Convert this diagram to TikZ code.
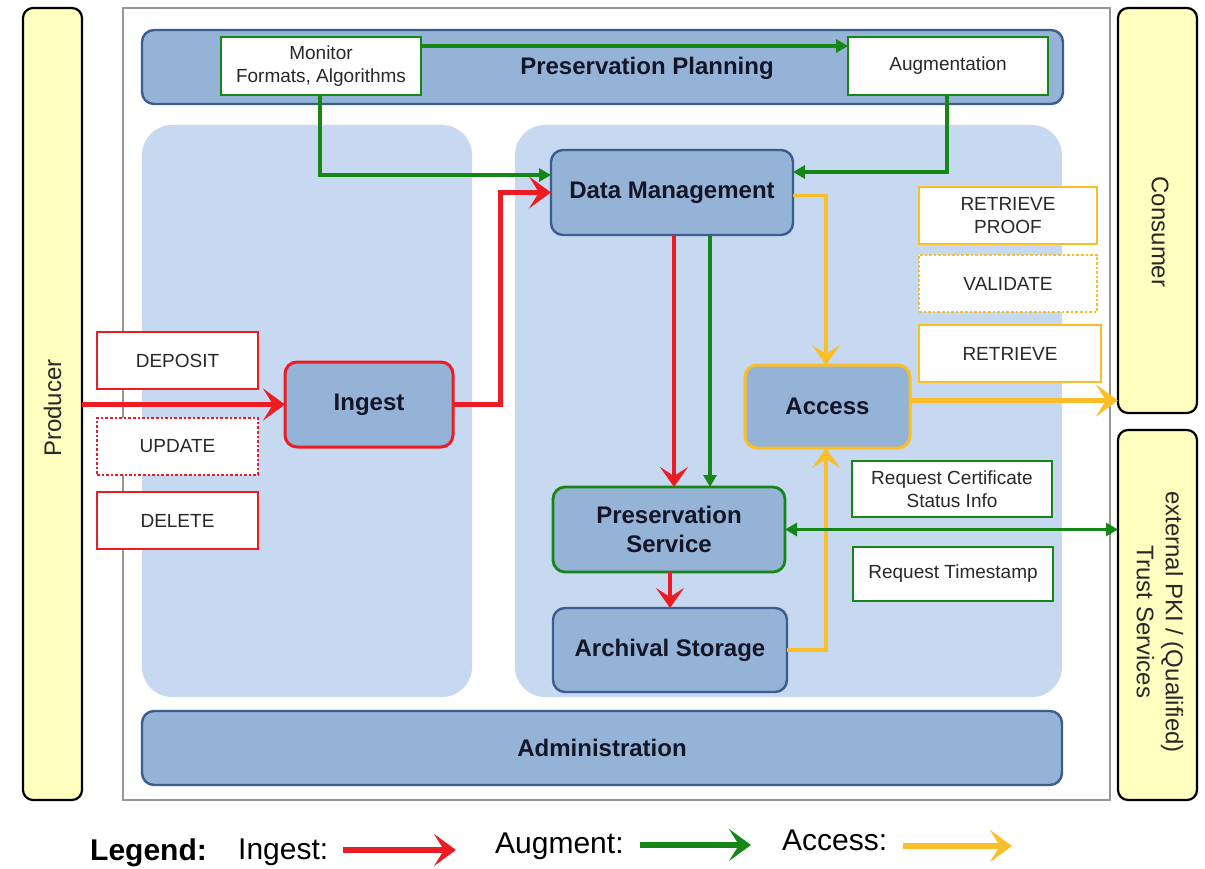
\documentclass[tikz,border=0pt]{standalone}
\usepackage{fontspec}
\setmainfont{Liberation Sans}
\usetikzlibrary{arrows.meta,calc}
\definecolor{ylw}{RGB}{255,255,191}
\definecolor{modfill}{RGB}{149,179,215}
\definecolor{modline}{RGB}{59,94,140}
\definecolor{panel}{RGB}{198,217,241}
\definecolor{ored}{RGB}{235,28,36}
\definecolor{ogreen}{RGB}{22,135,22}
\definecolor{oyel}{RGB}{250,190,40}
\definecolor{txtdark}{RGB}{20,22,40}
\definecolor{txtgray}{RGB}{40,40,40}
\begin{document}
\begin{tikzpicture}[x=1pt,y=-1pt,
  sidebox/.style={draw=black,line width=2.2pt,fill=ylw,rounded corners=10pt,inner sep=0pt,outer sep=0pt},
  sidetext/.style={font=\fontsize{24}{29}\selectfont,text=txtgray,align=center},
  module/.style={draw=modline,line width=2.4pt,fill=modfill,rounded corners=12pt,inner sep=0pt,outer sep=0pt,
     font=\fontsize{24}{29}\selectfont\bfseries,text=txtdark,align=center},
  panelbox/.style={fill=panel,draw=none,rounded corners=30pt,inner sep=0pt,outer sep=0pt},
  lbl/.style={fill=white,line width=2.6pt,inner sep=0pt,outer sep=0pt,
     font=\fontsize{19}{23}\selectfont,text=txtgray,align=center},
  redbox/.style={lbl,draw=ored},
  greenbox/.style={lbl,draw=ogreen},
  yelbox/.style={lbl,draw=oyel},
  barb/.style={-{Stealth[length=20pt,width=28pt,inset=9pt]}},
  bigbarb/.style={-{Stealth[length=22pt,width=32pt,inset=10pt]}},
  tri/.style={-{Triangle[length=12pt,width=13pt]}},
  redarr/.style={draw=ored,line width=3.5pt,barb},
  redthick/.style={draw=ored,line width=5pt,bigbarb},
  greenarr/.style={draw=ogreen,line width=3.5pt,tri},
  greendbl/.style={draw=ogreen,line width=3.5pt,{Triangle[length=12pt,width=13pt]}-{Triangle[length=12pt,width=13pt]}},
  yelarr/.style={draw=oyel,line width=3.5pt,barb},
  yelthick/.style={draw=oyel,line width=5pt,bigbarb},
  legtext/.style={font=\fontsize{30}{34}\selectfont,text=black,inner sep=0pt,anchor=west}
]
\useasboundingbox (0,0) rectangle (1205,869);
\fill[white] (0,0) rectangle (1205,869);

% outer frame
\node[draw={rgb,255:red,150;green,150;blue,150},line width=1.2pt,fill=white,minimum width=987pt,minimum height=792pt,inner sep=0pt] (frame) at (616.5,404) {};

% side actors
\node[sidebox,minimum width=59pt,minimum height=792pt] (producer) at (52.5,404) {};
\node[sidetext,rotate=90] (producerlbl) at (52.5,408) {Producer};
\node[sidebox,minimum width=79pt,minimum height=405pt] (consumer) at (1157.5,210.5) {};
\node[sidetext,rotate=-90] (consumerlbl) at (1160,232) {Consumer};
\node[sidebox,minimum width=79pt,minimum height=370pt] (pki) at (1157.5,615) {};
\node[sidetext,rotate=-90] (pkilbl) at (1160,622) {external PKI / (Qualified)\\Trust Services};

% panels
\node[panelbox,minimum width=330pt,minimum height=572pt] (leftpanel) at (307,411) {};
\node[panelbox,minimum width=547pt,minimum height=572pt] (rightpanel) at (788.5,411) {};

% planning and administration
\node[module,minimum width=921pt,minimum height=74pt] (pp) at (602.5,67) {};
\node[font=\fontsize{24}{29}\selectfont\bfseries,text=txtdark] (pplbl) at (647,68) {Preservation Planning};
\node[module,minimum width=920pt,minimum height=74pt] (admin) at (602,748) {Administration};

\node[greenbox,minimum width=200pt,minimum height=58pt] (monitor) at (321,66) {Monitor\\Formats, Algorithms};
\node[greenbox,minimum width=200pt,minimum height=58pt] (augment) at (948,66) {Augmentation};

% modules
\node[module,minimum width=242pt,minimum height=85pt] (dm) at (672,192.5) {Data Management};
\node[module,draw=ored,line width=3pt,minimum width=168pt,minimum height=85pt] (ingest) at (369,404.5) {Ingest};
\node[module,draw=oyel,line width=3pt,minimum width=165pt,minimum height=83pt] (access) at (827.5,406.5) {Access};
\node[module,draw=ogreen,line width=2.8pt,minimum width=232pt,minimum height=85pt] (ps) at (669,529.5) {Preservation\\Service};
\node[module,minimum width=234pt,minimum height=84pt] (as) at (670,650) {Archival Storage};

% ingest labels
\node[redbox,minimum width=161pt,minimum height=57pt] (deposit) at (177.5,360.5) {DEPOSIT};
\node[redbox,dotted,minimum width=161pt,minimum height=57pt] (update) at (177.5,446.5) {UPDATE};
\node[redbox,minimum width=161pt,minimum height=57pt] (delete) at (177.5,520.5) {DELETE};

% access labels
\node[yelbox,minimum width=178pt,minimum height=57pt] (rproof) at (1008,215.5) {RETRIEVE\\PROOF};
\node[yelbox,dotted,minimum width=178pt,minimum height=57pt] (validate) at (1008,283.5) {VALIDATE};
\node[yelbox,minimum width=182pt,minimum height=57pt] (retrieve) at (1010,353.5) {RETRIEVE};

% PKI labels
\node[greenbox,minimum width=200pt,minimum height=56pt] (reqcert) at (952,489) {Request Certificate\\Status Info};
\node[greenbox,minimum width=200pt,minimum height=54pt] (reqts) at (953,574) {Request Timestamp};

% connectors
\draw[greenarr] ([yshift=20pt]monitor.east) -- ([yshift=20pt]augment.west);
\draw[greenarr] ([xshift=-1pt]monitor.south) |- ([yshift=17.5pt]dm.west);
\draw[greenarr] ([xshift=-1pt]augment.south) |- ([yshift=20.5pt]dm.east);
\draw[redthick] (ingest.west -| producer.east) -- (ingest.west);
\draw[redthick] (ingest.east) -- ++(47,0) |- (dm.west);
\draw[redarr] ([xshift=2pt]dm.south) -- ([xshift=2pt]dm.south |- ps.north);
\draw[greenarr] ([xshift=38pt]dm.south) -- ([xshift=38pt]dm.south |- ps.north);
\draw[yelarr] ([yshift=-3pt]dm.east) -| ([xshift=-1.5pt]access.north);
\draw[yelthick] ([yshift=6pt]access.east) -- ([yshift=6pt]access.east -| consumer.west);
\draw[draw=oyel,line width=4.5pt,barb] (as.east) -| ([xshift=-1.5pt]access.south);
\draw[greendbl] (ps.east) -- (ps.east -| pki.west);
\draw[redarr] ([xshift=1pt]ps.south) -- ([xshift=1pt]ps.south |- as.north);

% legend
\node[legtext,font=\fontsize{30}{34}\selectfont\bfseries] (leg) at (90,853) {Legend:};
\node[legtext] (legingest) at (238,852) {Ingest:};
\coordinate (ri1) at (343,850);
\coordinate (ri2) at (456,850);
\draw[draw=ored,line width=5.5pt,bigbarb] (ri1) -- (ri2);
\node[legtext] (legaug) at (495,846) {Augment:};
\coordinate (ga1) at (640,845);
\coordinate (ga2) at (751,845);
\draw[draw=ogreen,line width=5.5pt,bigbarb] (ga1) -- (ga2);
\node[legtext] (legacc) at (782,840) {Access:};
\coordinate (ya1) at (903,846);
\coordinate (ya2) at (1012,846);
\draw[draw=oyel,line width=5.5pt,bigbarb] (ya1) -- (ya2);
\end{tikzpicture}
\end{document}
